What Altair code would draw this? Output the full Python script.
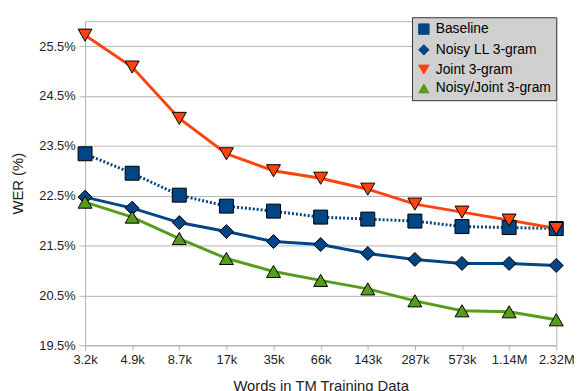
import altair as alt
import pandas as pd

sizes = ["3.2k", "4.9k", "8.7k", "17k", "35k", "66k", "143k", "287k", "573k", "1.14M", "2.32M"]
series_names = ["Baseline", "Noisy LL 3-gram", "Joint 3-gram", "Noisy/Joint 3-gram"]
baseline = [23.34, 22.95, 22.51, 22.29, 22.19, 22.07, 22.03, 21.99, 21.88, 21.86, 21.84]
noisy_ll = [22.47, 22.25, 21.96, 21.78, 21.58, 21.52, 21.34, 21.22, 21.14, 21.14, 21.10]
joint = [25.72, 25.08, 24.05, 23.34, 23.00, 22.85, 22.63, 22.33, 22.17, 22.01, 21.84]
noisy_joint = [22.37, 22.07, 21.64, 21.24, 20.98, 20.80, 20.63, 20.39, 20.19, 20.17, 20.01]
colors = ["#004586", "#004586", "#ff420e", "#579d1c"]
shapes = ["square", "diamond", "triangle-down", "triangle-up"]
y_ticks = [19.5, 20.5, 21.5, 22.5, 23.5, 24.5, 25.5]

rows = []
for name, vals in zip(series_names, [baseline, noisy_ll, joint, noisy_joint]):
    for s, v in zip(sizes, vals):
        rows.append({"size": s, "wer": v, "series": name})
df = pd.DataFrame(rows)

FONT = "Liberation Sans"

x = alt.X("size:N", sort=sizes, scale=alt.Scale(type="point", padding=0),
          axis=alt.Axis(title="Words in TM Training Data", labelAngle=0, grid=False,
                        tickSize=5, labelPadding=4, titlePadding=12,
                        labelFontSize=13, titleFontSize=15, titleFontWeight="normal"))
y = alt.Y("wer:Q", scale=alt.Scale(domain=[19.5, 26.0], nice=False, zero=False),
          axis=alt.Axis(title="WER (%)", values=y_ticks,
                        labelExpr="format(datum.value, '.1f') + '%'",
                        tickSize=6, labelPadding=4, titlePadding=13,
                        labelFontSize=13, titleFontSize=15, titleFontWeight="normal"))

color_scale = alt.Scale(domain=series_names, range=colors)

leg = alt.Legend(orient="none", legendX=331, legendY=-4, title=None,
                 fillColor="#d0d0d0", strokeColor="#333333", padding=5,
                 labelFont=FONT, labelFontSize=14, labelColor="#000000",
                 symbolSize=110, symbolStrokeColor="#000000", symbolStrokeWidth=1,
                 rowPadding=5, labelOffset=5, symbolOpacity=1)

color_enc = alt.Color("series:N", sort=series_names, scale=color_scale, legend=leg)

base = alt.Chart(df)

lines_solid = base.mark_line(strokeWidth=3).encode(
    x=x, y=y, color=color_enc,
).transform_filter(alt.datum.series != "Baseline")

lines_dotted = base.mark_line(strokeWidth=3, strokeDash=[2, 2]).encode(
    x=x, y=y, color=color_enc,
).transform_filter(alt.datum.series == "Baseline")

points = base.mark_point(filled=True, size=200, opacity=1,
                         stroke="#000000", strokeWidth=1).encode(
    x=x, y=y,
    color=color_enc,
    shape=alt.Shape("series:N", sort=series_names,
                    scale=alt.Scale(domain=series_names, range=shapes), legend=leg),
)

chart = alt.layer(lines_dotted, lines_solid, points).properties(
    width=477, height=328,
    autosize=alt.AutoSizeParams(type="none"),
    padding={"left": 78, "top": 11, "right": 20, "bottom": 44},
    background="white",
).configure_view(stroke="#b3b3b3", strokeWidth=1).configure_axis(
    gridColor="#b3b3b3", domainColor="#b3b3b3", tickColor="#b3b3b3",
    labelFont=FONT, titleFont=FONT, labelColor="#222222", titleColor="#222222",
)

chart.save("out.html", embed_options={"renderer": "svg", "actions": False})
